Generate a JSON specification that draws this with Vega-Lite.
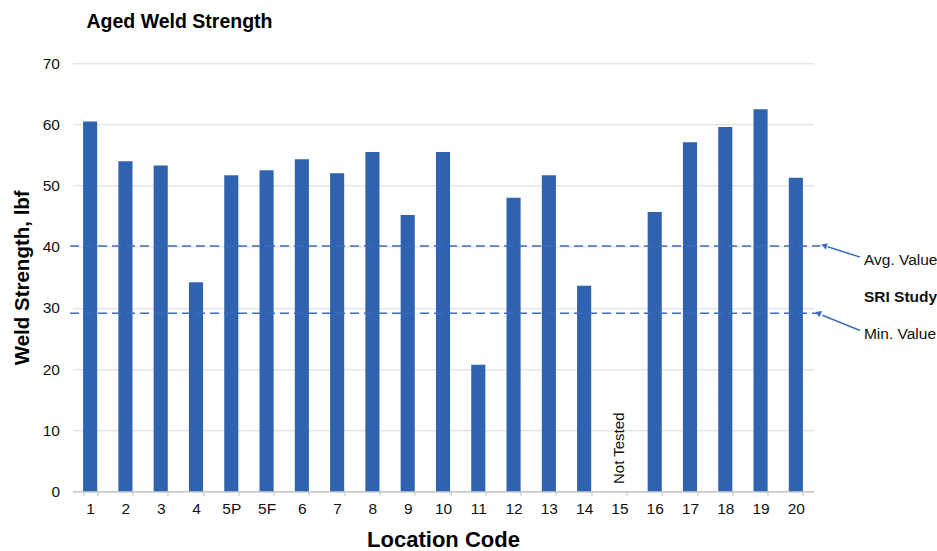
{
  "$schema": "https://vega.github.io/schema/vega-lite/v6.json",
  "autosize": {"type": "none"},
  "padding": {"left": 72.5, "top": 63.3, "right": 123.5, "bottom": 59.7},
  "width": 741,
  "height": 428,
  "background": "white",
  "config": {
    "font": "Liberation Sans",
    "view": {"stroke": null}
  },
  "title": {
    "text": "Aged Weld Strength",
    "anchor": "start",
    "frame": "group",
    "dx": 14,
    "offset": 24,
    "fontSize": 19.5,
    "fontWeight": "bold",
    "font": "Liberation Sans",
    "color": "#000000"
  },
  "datasets": {
    "strength": [
      {"code": "1", "lbf": 60.5},
      {"code": "2", "lbf": 54.0},
      {"code": "3", "lbf": 53.3},
      {"code": "4", "lbf": 34.2},
      {"code": "5P", "lbf": 51.7},
      {"code": "5F", "lbf": 52.5},
      {"code": "6", "lbf": 54.3},
      {"code": "7", "lbf": 52.0},
      {"code": "8", "lbf": 55.5},
      {"code": "9", "lbf": 45.2},
      {"code": "10", "lbf": 55.5},
      {"code": "11", "lbf": 20.7},
      {"code": "12", "lbf": 48.0},
      {"code": "13", "lbf": 51.7},
      {"code": "14", "lbf": 33.6},
      {"code": "15", "lbf": null},
      {"code": "16", "lbf": 45.7},
      {"code": "17", "lbf": 57.1},
      {"code": "18", "lbf": 59.6},
      {"code": "19", "lbf": 62.5},
      {"code": "20", "lbf": 51.3}
    ],
    "notes": [
      {"code": "15", "label": "Not Tested", "at": 1.2}
    ],
    "study": [
      {"name": "Avg. Value", "lbf": 40.1},
      {"name": "Min. Value", "lbf": 29.1}
    ]
  },
  "resolve": {"scale": {"x": "independent"}, "axis": {"x": "independent"}},
  "layer": [
    {
      "layer": [
        {
          "data": {"name": "strength"},
          "mark": {"type": "bar", "color": "#2f63b0"},
          "encoding": {
            "x": {
              "field": "code",
              "type": "nominal",
              "sort": null,
              "scale": {
                "domain": ["1", "2", "3", "4", "5P", "5F", "6", "7", "8", "9", "10", "11", "12", "13", "14", "15", "16", "17", "18", "19", "20"],
                "paddingInner": 0.6,
                "paddingOuter": 0.3
              },
              "axis": {
                "title": "Location Code",
                "titleFontSize": 22,
                "titleFontWeight": "bold",
                "titleColor": "#000000",
                "titlePadding": 13,
                "labelAngle": 0,
                "labelFontSize": 15.5,
                "labelColor": "#111111",
                "labelPadding": 6,
                "tickBand": "extent",
                "tickSize": 4,
                "tickColor": "#bfbfbf",
                "domainColor": "#bfbfbf",
                "domainWidth": 1.2
              }
            },
            "y": {
              "field": "lbf",
              "type": "quantitative",
              "scale": {"domain": [0, 70], "nice": false},
              "axis": {
                "title": "Weld Strength, lbf",
                "titleFontSize": 20.5,
                "titleFontWeight": "bold",
                "titleColor": "#000000",
                "titlePadding": 10,
                "values": [0, 10, 20, 30, 40, 50, 60, 70],
                "labelFontSize": 15.5,
                "labelColor": "#111111",
                "labelPadding": 13,
                "ticks": false,
                "domain": false,
                "gridColor": "#d9d9d9",
                "gridWidth": 1
              }
            }
          }
        },
        {
          "data": {"name": "notes"},
          "mark": {"type": "text", "angle": 270, "align": "left", "baseline": "middle", "fontSize": 15, "color": "#111111", "dx": 0},
          "encoding": {
            "x": {"field": "code", "type": "nominal"},
            "y": {"field": "at", "type": "quantitative"},
            "text": {"field": "label"}
          }
        }
      ]
    },
    {
      "layer": [
        {
          "data": {"name": "study"},
          "mark": {"type": "rule", "color": "#3b6cbd", "strokeWidth": 1.5, "strokeDash": [9, 5]},
          "encoding": {
            "x": {"datum": -0.07, "type": "quantitative", "scale": {"domain": [0, 21], "nice": false, "zero": false}, "axis": null},
            "x2": {"datum": 21.2},
            "y": {"field": "lbf", "type": "quantitative"}
          }
        },
        {
          "data": {"values": [{}]},
          "mark": {"type": "rule", "color": "#3b6cbd", "strokeWidth": 1.5},
          "encoding": {
            "x": {"datum": 22.32, "type": "quantitative"},
            "x2": {"datum": 21.4},
            "y": {"datum": 38.3, "type": "quantitative"},
            "y2": {"datum": 40.0}
          }
        },
        {
          "data": {"values": [{}]},
          "mark": {"type": "rule", "color": "#3b6cbd", "strokeWidth": 1.5},
          "encoding": {
            "x": {"datum": 22.32, "type": "quantitative"},
            "x2": {"datum": 21.25},
            "y": {"datum": 26.3, "type": "quantitative"},
            "y2": {"datum": 28.8}
          }
        },
        {
          "data": {"values": [{}]},
          "mark": {"type": "point", "shape": "triangle-up", "filled": true, "color": "#3b6cbd", "size": 45, "angle": 288, "opacity": 1},
          "encoding": {
            "x": {"datum": 21.3, "type": "quantitative"},
            "y": {"datum": 40.2, "type": "quantitative"}
          }
        },
        {
          "data": {"values": [{}]},
          "mark": {"type": "point", "shape": "triangle-up", "filled": true, "color": "#3b6cbd", "size": 45, "angle": 293, "opacity": 1},
          "encoding": {
            "x": {"datum": 21.13, "type": "quantitative"},
            "y": {"datum": 29.15, "type": "quantitative"}
          }
        },
        {
          "data": {"values": [
            {"label": "Avg. Value", "level": 37.8},
            {"label": "Min. Value", "level": 25.7}
          ]},
          "mark": {"type": "text", "align": "left", "baseline": "middle", "fontSize": 15.5, "color": "#111111"},
          "encoding": {
            "x": {"datum": 22.43, "type": "quantitative"},
            "y": {"field": "level", "type": "quantitative"},
            "text": {"field": "label"}
          }
        },
        {
          "data": {"values": [
            {"label": "SRI Study", "level": 31.8}
          ]},
          "mark": {"type": "text", "align": "left", "baseline": "middle", "fontSize": 15.5, "fontWeight": "bold", "color": "#111111"},
          "encoding": {
            "x": {"datum": 22.43, "type": "quantitative"},
            "y": {"field": "level", "type": "quantitative"},
            "text": {"field": "label"}
          }
        }
      ]
    }
  ]
}
